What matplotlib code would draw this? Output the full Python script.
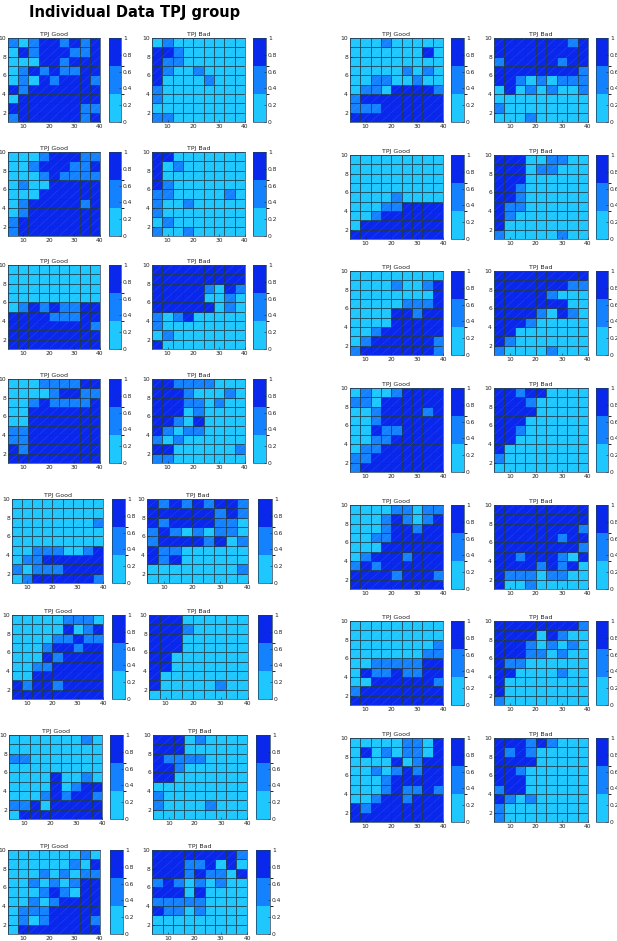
import numpy as np
import matplotlib
matplotlib.use("Agg")
import matplotlib.pyplot as plt
from matplotlib.colors import ListedColormap, BoundaryNorm
from matplotlib.collections import LineCollection
import matplotlib.cm as cm

# ---------------- data (levels: 0 = 0-0.33, 1 = 0.33-0.67, 2 = 0.67-1), rows listed top (y=10) to bottom (y=1)
x_edges = [4, 8, 12, 16, 20, 24, 28, 32, 36, 40]
y_edges = [1, 2, 3, 4, 5, 6, 7, 8, 9, 10]
xticks = [10, 20, 30, 40]
yticks = [2, 4, 6, 8, 10]
cbar_ticks = [0, 0.2, 0.4, 0.6, 0.8, 1]
level_bounds = [0, 1/3, 2/3, 1]
panel_titles = ["TPJ Good", "TPJ Bad"]
main_title = "Individual Data TPJ group"

L1_good = ["101221212", "021222112", "000221222", "012121122", "010212221",
           "212222222", "022222222", "222222211", "122222212"]
L1_bad = ["010000000", "221000000", "211000000", "210010000", "200001000",
          "100000000", "100000000", "000000000", "110000000"]
L2_good = ["000122211", "001222112", "000121111", "010022222", "000222222",
           "012222212", "012222222", "122222222", "122222222"]
L2_bad = ["220000000", "201000000", "200000000", "210000000", "110000010",
          "100100000", "100000000", "010000000", "100100000"]
L3_good = ["000000000", "000000000", "000000000", "000000000", "012121122",
           "222211122", "222222221", "222222222", "222222222"]
L3_bad = ["222222222", "222222222", "222221021", "222220010", "222222010",
          "101200000", "100000000", "010000000", "200000000"]
L4_good = ["000111122", "000012211", "001211112", "002222222", "002222222",
           "112222222", "112222222", "212222222", "222222222"]
L4_bad = ["221111000", "222100010", "222110100", "222010000", "221020000",
          "210110000", "101000000", "220000001", "110000000"]
L5_good = ["000000000", "000000000", "000000001", "000000000", "000000000",
           "001110012", "011222222", "101112222", "012222221"]
L5_bad = ["212121221", "222222121", "212222110", "121010110", "122221201",
          "211000000", "212000000", "000000001", "000000000"]
L6_good = ["000001110", "000002012", "000011211", "000122122", "000212222",
           "001122222", "002222222", "212212222", "222222222"]
L6_bad = ["222000000", "222100000", "222000000", "222000000", "220000000",
          "220000000", "200000000", "200000100", "000000000"]
L7_good = ["000000010", "000000000", "110000000", "000000000", "000020010",
           "000020122", "000121221", "112022222", "022222222"]
L7_bad = ["222010000", "222000000", "211110000", "221000000", "220000000",
          "000000000", "100000000", "100001000", "000000000"]
L8_good = ["000000010", "000000102", "000101011", "001010122", "000121022",
           "001012222", "011122222", "010122221", "022222222"]
L8_bad = ["222222221", "222112020", "222121102", "121010100", "222020000",
          "111110000", "211010000", "000000000", "000000000"]

R1_good = ["000100000", "000000020", "000000000", "000001010", "001100100",
           "011022221", "122222222", "111222222", "222222222"]
R1_bad = ["222222212", "222222222", "122222122", "222222221", "221010111",
          "020101001", "000000000", "100000000", "000100000"]
R2_good = ["000000000", "000000000", "000000000", "000000000", "000010000",
           "000112222", "001222222", "022222222", "222222222"]
R2_bad = ["222001100", "222011000", "222000000", "221000000", "221000000",
          "211000000", "210000000", "200000000", "100000100"]
R3_good = ["000000000", "000010012", "000000002", "000001112", "000022122",
           "000022222", "001222222", "012222221", "122222221"]
R3_bad = ["222222222", "222222211", "222221000", "222222200", "222210210",
          "222100000", "220000000", "210000000", "100001000"]
R4_good = ["010012222", "110222222", "001222212", "001222222", "002112222",
           "001122222", "011222222", "112222222", "122222222"]
R4_bad = ["221220000", "222100000", "222200000", "222000000", "221000000",
          "220000000", "200000000", "100000000", "000000000"]
R5_good = ["000011011", "000121012", "000122122", "001122222", "000222222",
           "012221222", "121222222", "222212221", "222222222"]
R5_bad = ["222222222", "222222222", "222222221", "222222122", "222222221",
          "221222102", "222212120", "211101100", "200100000"]
R6_good = ["000000000", "000000000", "000000001", "000000011", "001111122",
           "021121122", "002222221", "122222222", "222222222"]
R6_bad = ["222222221", "222202100", "222101010", "222110100", "211000000",
          "220000100", "200000000", "200000000", "100000000"]
R7_good = ["000001102", "020101102", "000020122", "001012122", "000122222",
           "000121121", "001221222", "212222222", "222222222"]
R7_bad = ["222121000", "212100000", "222200000", "221000000", "222000000",
          "122000000", "210100000", "100000000", "100000000"]

left_pairs = [(L1_good, L1_bad), (L2_good, L2_bad), (L3_good, L3_bad), (L4_good, L4_bad),
              (L5_good, L5_bad), (L6_good, L6_bad), (L7_good, L7_bad), (L8_good, L8_bad)]
right_pairs = [(R1_good, R1_bad), (R2_good, R2_bad), (R3_good, R3_bad), (R4_good, R4_bad),
               (R5_good, R5_bad), (R6_good, R6_bad), (R7_good, R7_bad)]

# ---------------- style / layout
W, H = 617, 941
colors = ["#1ec8ff", "#1482ff", "#0a28ec"]
cmap = ListedColormap(colors)
norm = BoundaryNorm(level_bounds, cmap.N)
edge_col = "#18303c"

fig = plt.figure(figsize=(W / 100, H / 100), dpi=100)
fig.patch.set_facecolor("white")

def px_axes(x0, x1, ytop, h=84):
    return fig.add_axes([x0 / W, 1 - (ytop + h) / H, (x1 - x0) / W, h / H])

xe = np.array(x_edges, float)
ye = np.array(y_edges, float)
segs = []
for i in range(len(ye) - 1):
    for j in range(len(xe) - 1):
        segs.append([(xe[j], ye[i]), (xe[j + 1], ye[i + 1])])

def draw_panel(ax, rows, title):
    z = np.array([[int(c) for c in r] for r in rows[::-1]], float)
    vals = (z + 0.5) / 3.0
    ax.pcolormesh(xe, ye, vals, cmap=cmap, norm=norm, edgecolors=edge_col,
                  linewidth=0.45, antialiased=True)
    ax.add_collection(LineCollection(segs, colors="white", linewidths=0.3, alpha=0.15))
    ax.set_xlim(xe[0], xe[-1])
    ax.set_ylim(ye[0], ye[-1])
    ax.set_xticks(xticks)
    ax.set_yticks(yticks)
    ax.tick_params(direction="in", length=1.5, width=0.4, labelsize=4.3, pad=1.5,
                   colors="#222222")
    for s in ax.spines.values():
        s.set_linewidth(0.5)
        s.set_color("#1c3c5c")
    ax.set_title(title, fontsize=4.5, pad=1.5, color="#222222")

def draw_cbar(cax):
    sm = cm.ScalarMappable(norm=norm, cmap=cmap)
    cb = fig.colorbar(sm, cax=cax, ticks=cbar_ticks, spacing="proportional")
    cb.ax.set_yticklabels([f"{t:g}" for t in cbar_ticks])
    cb.ax.tick_params(direction="in", length=1.2, width=0.4, labelsize=4.3, pad=1.5,
                      colors="#222222")
    cb.outline.set_linewidth(0.5)
    cb.outline.set_edgecolor("#1c3c5c")

left_y = [38, 152, 265, 379, 499, 615, 735, 850]
left_good_x = [(8, 100), (8, 100), (8, 100), (8, 100), (12, 103), (12, 103), (9, 102), (8, 100)]
left_gcb_x = [(109, 121), (109, 121), (109, 121), (109, 121), (112, 125), (112, 125), (110, 123), (110, 123)]
left_bad_x = [(152, 245), (152, 245), (152, 245), (152, 245), (147, 248), (149, 248), (153, 247), (152, 247)]
left_bcb_x = [(253, 266), (253, 266), (253, 266), (253, 266), (258, 272), (258, 272), (256, 270), (256, 270)]

right_y = [38, 155, 271, 388, 505, 621, 738]
right_good_x = (350, 443)
right_gcb_x = (451, 464)
right_bad_x = (494, 588)
right_bcb_x = (596, 608)

for k, (g, b) in enumerate(left_pairs):
    y0 = left_y[k]
    draw_panel(px_axes(*left_good_x[k], y0), g, panel_titles[0])
    draw_cbar(px_axes(*left_gcb_x[k], y0))
    draw_panel(px_axes(*left_bad_x[k], y0), b, panel_titles[1])
    draw_cbar(px_axes(*left_bcb_x[k], y0))

for k, (g, b) in enumerate(right_pairs):
    y0 = right_y[k]
    draw_panel(px_axes(*right_good_x, y0), g, panel_titles[0])
    draw_cbar(px_axes(*right_gcb_x, y0))
    draw_panel(px_axes(*right_bad_x, y0), b, panel_titles[1])
    draw_cbar(px_axes(*right_bcb_x, y0))

fig.text(29 / W, 1 - 12 / H, main_title, fontsize=10.5, fontweight="bold",
         ha="left", va="center", color="black")

fig.savefig("out.png", dpi=100, facecolor="white")
